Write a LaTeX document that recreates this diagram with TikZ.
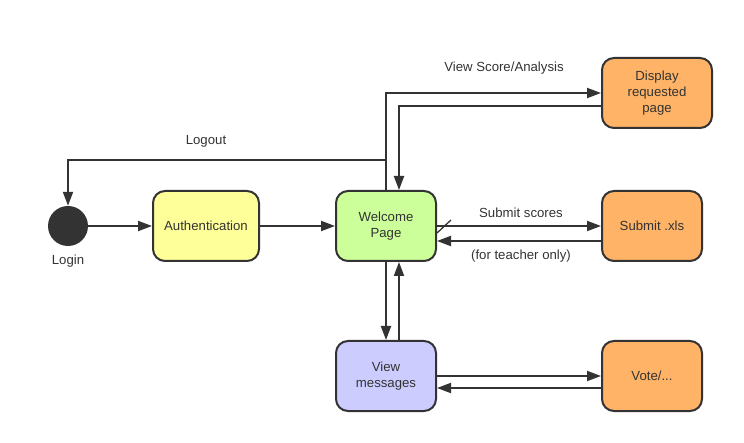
\documentclass[tikz,border=0pt]{standalone}
\usepackage{fontspec}
\setmainfont{Liberation Sans}
\usetikzlibrary{arrows.meta}
\definecolor{ink}{HTML}{333333}
\definecolor{cyellow}{HTML}{FFFF99}
\definecolor{cgreen}{HTML}{CCFF99}
\definecolor{corange}{HTML}{FFB366}
\definecolor{cblue}{HTML}{CCCCFF}
\begin{document}
\begin{tikzpicture}[x=1pt,y=-1pt,
  state/.style={draw=ink,line width=2pt,rounded corners=12pt,inner sep=0pt,
     minimum height=70pt,align=center,text=ink,
     font=\fontsize{13.2}{16}\selectfont},
  lbl/.style={text=ink,font=\fontsize{13.2}{16}\selectfont,inner sep=0pt},
  conn/.style={draw=ink,line width=2pt,-{Triangle[length=14pt,width=10pt]}}]
\useasboundingbox (0,0) rectangle (744,443);
\node[circle,fill=ink,minimum size=40pt,inner sep=0pt] (login) at (68,226) {};
\node[lbl] (loginl) at (68,261) {Login};
\node[state,fill=cyellow,minimum width=106pt] (auth) at (206,226) {Authentication};
\node[state,fill=cgreen,minimum width=100pt] (welcome) at (386,226) {Welcome\\Page};
\node[state,fill=corange,minimum width=110pt] (disp) at (657,93) {Display\\requested\\page};
\node[state,fill=corange,minimum width=100pt] (submit) at (652,226) {Submit .xls};
\node[state,fill=cblue,minimum width=100pt] (view) at (386,376) {View\\messages};
\node[state,fill=corange,minimum width=100pt] (vote) at (652,376) {Vote/...};

\node[lbl] (lvs) at (504,68) {View Score/Analysis};
\node[lbl] (llo) at (206,141) {Logout};
\node[lbl] (lss) at (521,213) {Submit scores};
\node[lbl] (lto) at (521,256) {(for teacher only)};

\draw[conn] (login) -- (auth);
\draw[conn] (auth) -- (welcome);
\draw[conn] (welcome.north) |- (disp.west);
\draw[conn] ([yshift=-13pt]disp.west) -| ([xshift=13pt]welcome.north);
\coordinate (lo) at (386,160);
\draw[conn] (lo) -| (login.north);
\draw[conn] (welcome.east) -- (submit.west);
\draw[conn] ([yshift=-15pt]submit.west) -- ([yshift=-15pt]welcome.east);
\coordinate (s1) at (437,233);
\coordinate (s2) at (451,220);
\draw[draw=ink,line width=1.3pt] (s1) -- (s2);
\draw[conn] (welcome.south) -- (view.north);
\draw[conn] ([xshift=13pt]view.north) -- ([xshift=13pt]welcome.south);
\draw[conn] (view.east) -- (vote.west);
\draw[conn] ([yshift=-12pt]vote.west) -- ([yshift=-12pt]view.east);
\end{tikzpicture}
\end{document}
